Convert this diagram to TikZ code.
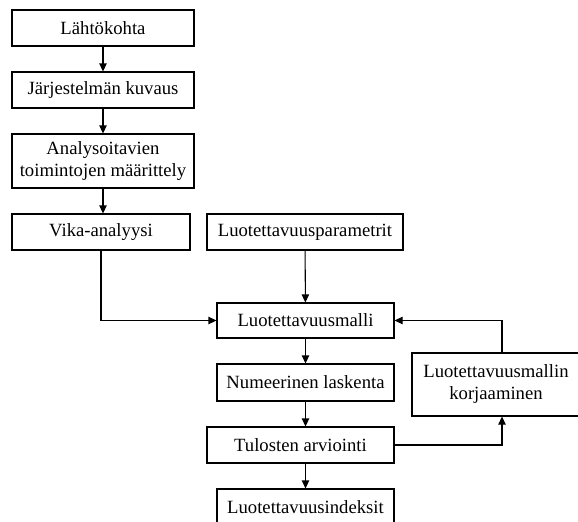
\documentclass[tikz,border=0pt]{standalone}
\usepackage{fontspec}
\setmainfont{Liberation Serif}
\usepackage{tikz}
\usetikzlibrary{arrows.meta}

\tikzset{
  laatikko/.style={draw, line width=0.8pt, inner sep=0pt, align=center,
    font=\fontsize{14}{16.5}\selectfont},
  nuoli/.style={line width=0.8pt, -{Triangle[length=6pt,width=5.5pt]}}
}

\begin{document}
\begin{tikzpicture}[x=0.75pt,y=0.75pt,yscale=-1]
\useasboundingbox (0,0) rectangle (578,521); %set diagram to 578 x 521

% Left column
\node (lahto) at (103,28) [laatikko, minimum width=136.5pt, minimum height=27pt] {Lähtökohta};
\node (kuvaus) at (103,90) [laatikko, minimum width=136.5pt, minimum height=27pt] {Järjestelmän kuvaus};
\node (maarittely) at (103,161) [laatikko, minimum width=136.5pt, minimum height=40.5pt] {Analysoitavien\\toimintojen määrittely};
\node (vika) at (101,232) [laatikko, minimum width=133.5pt, minimum height=27pt] {Vika-analyysi};

% Middle column
\node (param) at (305,232) [laatikko, minimum width=147pt, minimum height=27pt] {Luotettavuusparametrit};
\node (malli) at (305.5,320.5) [laatikko, minimum width=132.75pt, minimum height=26.25pt] {Luotettavuusmalli};
\node (laskenta) at (305.5,382.5) [laatikko, minimum width=132.75pt, minimum height=27.75pt] {Numeerinen laskenta};
\node (arviointi) at (300.5,445) [laatikko, minimum width=140.25pt, minimum height=27pt] {Tulosten arviointi};
\node (indeksit) at (305.5,507) [laatikko, minimum width=132.75pt, minimum height=27pt] {Luotettavuusindeksit};

% Right box
\node (korjaus) at (496,384.5) [laatikko, minimum width=126pt, minimum height=47.25pt] {Luotettavuusmallin\\korjaaminen};
\coordinate (kx) at (502,0);

% Arrows
\draw [nuoli] (lahto) -- (kuvaus);
\draw [nuoli] (kuvaus) -- (maarittely);
\draw [nuoli] (maarittely.south) -- (maarittely.south |- vika.north);
\draw [nuoli] (vika.south) |- (malli.west);
\draw [nuoli] (param) -- (malli);
\draw [nuoli] (malli) -- (laskenta);
\draw [nuoli] (laskenta.south) -- (laskenta.south |- arviointi.north);
\draw [nuoli] (laskenta.south |- arviointi.south) -- (indeksit.north);
\draw [nuoli] (arviointi.east) -| (kx |- korjaus.south);
\draw [nuoli] (kx |- korjaus.north) |- (malli.east);

\end{tikzpicture}
\end{document}
